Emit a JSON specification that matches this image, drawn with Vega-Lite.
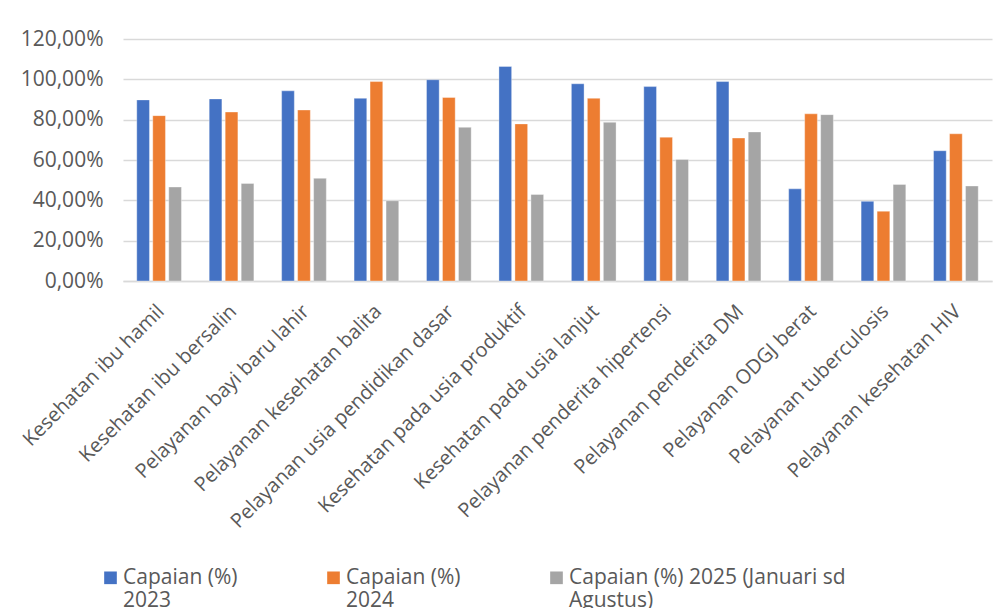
{
  "$schema": "https://vega.github.io/schema/vega-lite/v6.json",
  "autosize": {"type": "none"},
  "width": 869,
  "height": 242,
  "padding": {"left": 123, "top": 39, "right": 12, "bottom": 327},
  "background": "white",
  "data": {
    "values": [
      {"kategori": "Kesehatan ibu hamil", "seri": "Capaian (%) 2023", "nilai": 89.8},
      {"kategori": "Kesehatan ibu hamil", "seri": "Capaian (%) 2024", "nilai": 82.0},
      {"kategori": "Kesehatan ibu hamil", "seri": "Capaian (%) 2025 (Januari sd Agustus)", "nilai": 46.6},
      {"kategori": "Kesehatan ibu bersalin", "seri": "Capaian (%) 2023", "nilai": 90.3},
      {"kategori": "Kesehatan ibu bersalin", "seri": "Capaian (%) 2024", "nilai": 83.8},
      {"kategori": "Kesehatan ibu bersalin", "seri": "Capaian (%) 2025 (Januari sd Agustus)", "nilai": 48.4},
      {"kategori": "Pelayanan bayi baru lahir", "seri": "Capaian (%) 2023", "nilai": 94.3},
      {"kategori": "Pelayanan bayi baru lahir", "seri": "Capaian (%) 2024", "nilai": 84.8},
      {"kategori": "Pelayanan bayi baru lahir", "seri": "Capaian (%) 2025 (Januari sd Agustus)", "nilai": 50.9},
      {"kategori": "Pelayanan kesehatan balita", "seri": "Capaian (%) 2023", "nilai": 90.6},
      {"kategori": "Pelayanan kesehatan balita", "seri": "Capaian (%) 2024", "nilai": 98.9},
      {"kategori": "Pelayanan kesehatan balita", "seri": "Capaian (%) 2025 (Januari sd Agustus)", "nilai": 39.8},
      {"kategori": "Pelayanan usia pendidikan dasar", "seri": "Capaian (%) 2023", "nilai": 99.8},
      {"kategori": "Pelayanan usia pendidikan dasar", "seri": "Capaian (%) 2024", "nilai": 91.0},
      {"kategori": "Pelayanan usia pendidikan dasar", "seri": "Capaian (%) 2025 (Januari sd Agustus)", "nilai": 76.2},
      {"kategori": "Kesehatan pada usia produktif", "seri": "Capaian (%) 2023", "nilai": 106.4},
      {"kategori": "Kesehatan pada usia produktif", "seri": "Capaian (%) 2024", "nilai": 77.9},
      {"kategori": "Kesehatan pada usia produktif", "seri": "Capaian (%) 2025 (Januari sd Agustus)", "nilai": 42.9},
      {"kategori": "Kesehatan pada usia lanjut", "seri": "Capaian (%) 2023", "nilai": 97.8},
      {"kategori": "Kesehatan pada usia lanjut", "seri": "Capaian (%) 2024", "nilai": 90.6},
      {"kategori": "Kesehatan pada usia lanjut", "seri": "Capaian (%) 2025 (Januari sd Agustus)", "nilai": 78.7},
      {"kategori": "Pelayanan penderita hipertensi", "seri": "Capaian (%) 2023", "nilai": 96.4},
      {"kategori": "Pelayanan penderita hipertensi", "seri": "Capaian (%) 2024", "nilai": 71.3},
      {"kategori": "Pelayanan penderita hipertensi", "seri": "Capaian (%) 2025 (Januari sd Agustus)", "nilai": 60.3},
      {"kategori": "Pelayanan penderita DM", "seri": "Capaian (%) 2023", "nilai": 98.9},
      {"kategori": "Pelayanan penderita DM", "seri": "Capaian (%) 2024", "nilai": 70.9},
      {"kategori": "Pelayanan penderita DM", "seri": "Capaian (%) 2025 (Januari sd Agustus)", "nilai": 73.9},
      {"kategori": "Pelayanan ODGJ berat", "seri": "Capaian (%) 2023", "nilai": 45.7},
      {"kategori": "Pelayanan ODGJ berat", "seri": "Capaian (%) 2024", "nilai": 82.9},
      {"kategori": "Pelayanan ODGJ berat", "seri": "Capaian (%) 2025 (Januari sd Agustus)", "nilai": 82.5},
      {"kategori": "Pelayanan tuberculosis", "seri": "Capaian (%) 2023", "nilai": 39.5},
      {"kategori": "Pelayanan tuberculosis", "seri": "Capaian (%) 2024", "nilai": 34.6},
      {"kategori": "Pelayanan tuberculosis", "seri": "Capaian (%) 2025 (Januari sd Agustus)", "nilai": 47.9},
      {"kategori": "Pelayanan kesehatan HIV", "seri": "Capaian (%) 2023", "nilai": 64.6},
      {"kategori": "Pelayanan kesehatan HIV", "seri": "Capaian (%) 2024", "nilai": 73.0},
      {"kategori": "Pelayanan kesehatan HIV", "seri": "Capaian (%) 2025 (Januari sd Agustus)", "nilai": 47.1}
    ]
  },
  "mark": {"type": "bar", "stroke": "white", "strokeWidth": 0.6, "strokeOpacity": 0.6},
  "encoding": {
    "x": {
      "field": "kategori",
      "type": "nominal",
      "sort": null,
      "scale": {"paddingInner": 0.383, "paddingOuter": 0.19},
      "axis": {
        "title": null,
        "labelAngle": -45,
        "labelAlign": "right",
        "labelBaseline": "middle",
        "labelFont": "Open Sans",
        "labelFontSize": 20,
        "labelColor": "#595959",
        "labelPadding": 27,
        "labelOffset": 2,
        "labelLimit": 400,
        "ticks": false,
        "domainColor": "#d9d9d9",
        "domainWidth": 1.5,
        "grid": false
      }
    },
    "xOffset": {
      "field": "seri",
      "type": "nominal",
      "scale": {"paddingInner": 0.206, "paddingOuter": 0}
    },
    "y": {
      "field": "nilai",
      "type": "quantitative",
      "scale": {"domain": [0, 120], "nice": false},
      "axis": {
        "title": null,
        "values": [0, 20, 40, 60, 80, 100, 120],
        "labelExpr": "replace(format(datum.value, '.2f'), '.', ',') + '%'",
        "labelFont": "Open Sans",
        "labelFontSize": 21,
        "labelColor": "#595959",
        "labelPadding": 20,
        "ticks": false,
        "domain": false,
        "gridColor": "#d9d9d9",
        "gridWidth": 1.5
      }
    },
    "color": {
      "field": "seri",
      "type": "nominal",
      "scale": {
        "domain": ["Capaian (%) 2023", "Capaian (%) 2024", "Capaian (%) 2025 (Januari sd Agustus)"],
        "range": ["#4472C4", "#ED7D31", "#A5A5A5"]
      },
      "legend": {
        "title": null,
        "orient": "none",
        "direction": "horizontal",
        "columns": 3,
        "legendX": -23,
        "legendY": 517,
        "symbolType": "M-1,0.75H1V2.75H-1Z",
        "symbolSize": 160,
        "symbolStrokeWidth": 0,
        "symbolOffset": 0,
        "labelOffset": 2,
        "labelFont": "Open Sans",
        "labelFontSize": 21,
        "labelColor": "#595959",
        "labelBaseline": "top",
        "labelLimit": 400,
        "columnPadding": 85,
        "labelExpr": "datum.value == 'Capaian (%) 2023' ? ['Capaian (%)', '2023'] : datum.value == 'Capaian (%) 2024' ? ['Capaian (%)', '2024'] : ['Capaian (%) 2025 (Januari sd', 'Agustus)']"
      }
    }
  },
  "config": {"view": {"stroke": null}}
}
